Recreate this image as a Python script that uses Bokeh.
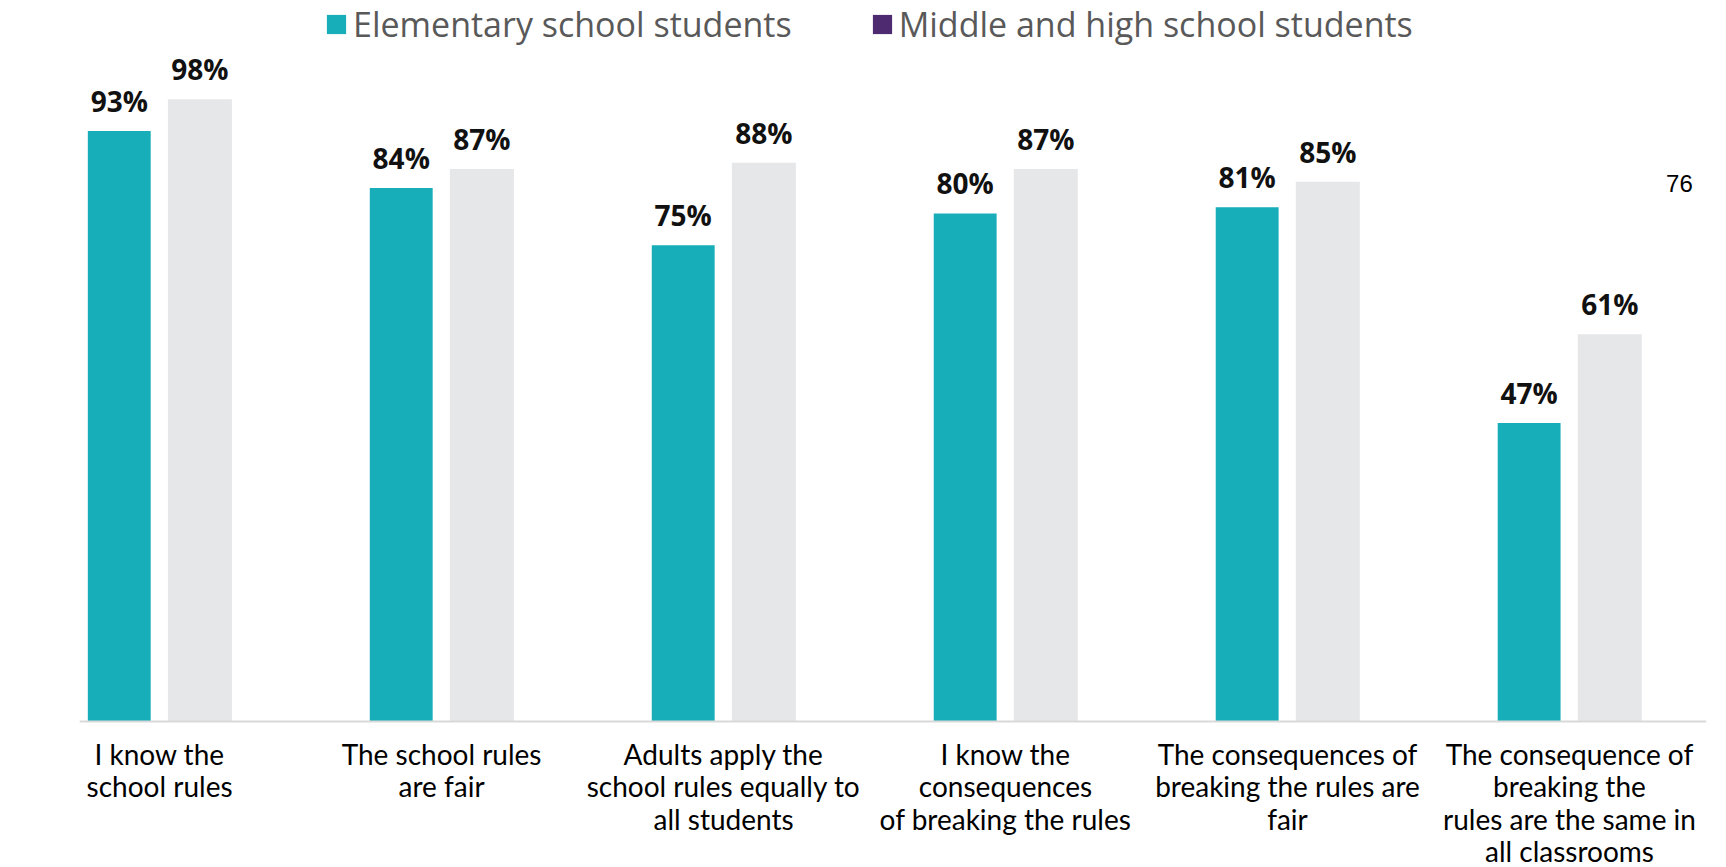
from bokeh.plotting import figure
from bokeh.models import ColumnDataSource, Range1d, Legend, LegendItem, Span
from bokeh.core.properties import value
from bokeh.transform import dodge
from bokeh.embed import file_html
from bokeh.resources import INLINE

categories = [
    "I know the\nschool rules",
    "The school rules\nare fair",
    "Adults apply the\nschool rules equally to\nall students",
    "I know the\nconsequences\nof breaking the rules",
    "The consequences of\nbreaking the rules are\nfair",
    "The consequence of\nbreaking the\nrules are the same in\nall classrooms",
]
elementary = [93, 84, 75, 80, 81, 47]
middle_high = [98, 87, 88, 87, 85, 61]
series_names = ["Elementary school students", "Middle and high school students"]
stray_label = "76"
stray_pos = (5.39, 84.7)

TEAL = "#17aeb9"
GREY_BAR = "#e6e7e9"
PURPLE = "#4e2a70"

idx = list(range(len(categories)))
src = ColumnDataSource(dict(
    x=idx,
    zero=[0] * len(idx),
    cat=categories,
    elem=elementary,
    mid=middle_high,
    elem_lbl=[f"{v}%" for v in elementary],
    mid_lbl=[f"{v}%" for v in middle_high],
))

p = figure(width=1726, height=867, output_backend="svg", toolbar_location=None,
           x_range=Range1d(-0.284, 5.486), y_range=Range1d(-22.99, 113.54),
           min_border_left=79, min_border_right=20, min_border_top=0, min_border_bottom=0)
p.outline_line_color = None
p.xgrid.visible = False
p.ygrid.visible = False
p.xaxis.visible = False
p.yaxis.visible = False
p.background_fill_color = "white"
p.border_fill_color = "white"

off = 0.143
r1 = p.vbar(x=dodge("x", -off), top="elem", width=0.223, source=src,
            fill_color=TEAL, line_color=None)
r2 = p.vbar(x=dodge("x", off), top="mid", width=0.227, source=src,
            fill_color=GREY_BAR, line_color=None)

# renderer outside the visible range, only used for the legend colour of the 2nd series
dummy_src = ColumnDataSource(dict(x=[-10], top=[0]))
r_dummy = p.vbar(x="x", top="top", width=0.2, source=dummy_src, fill_color=PURPLE, line_color=None)

# baseline
p.add_layout(Span(location=0, dimension="width", line_color="#d9d9d9", line_width=2))

p.text(x=dodge("x", -off), y="elem", text="elem_lbl", source=src,
       text_align="center", text_baseline="alphabetic", y_offset=-30,
       text_font=value("Open Sans"), text_font_style="bold", text_font_size="28px",
       text_color="#111111")
p.text(x=dodge("x", off), y="mid", text="mid_lbl", source=src,
       text_align="center", text_baseline="alphabetic", y_offset=-30,
       text_font=value("Open Sans"), text_font_style="bold", text_font_size="28px",
       text_color="#111111")

# category labels
p.text(x="x", y="zero", text="cat", source=src,
       text_align="center", text_baseline="top", y_offset=15,
       text_font=value("Lato"), text_font_size="28px", text_line_height=0.96,
       text_color="#000000")

p.text(x=[stray_pos[0]], y=[stray_pos[1]], text=[stray_label],
       text_align="center", text_baseline="middle",
       text_font=value("Liberation Sans"), text_font_size="24px", text_color="#000000")

legend = Legend(items=[LegendItem(label=series_names[0], renderers=[r1]),
                       LegendItem(label=series_names[1], renderers=[r_dummy])],
                orientation="horizontal", location=(245, 820),
                glyph_width=24, glyph_height=24, label_standoff=5, spacing=78,
                padding=0, margin=0, border_line_color=None,
                background_fill_alpha=0,
                label_text_font="Open Sans", label_text_font_size="34px",
                label_text_color="#595959", label_height=36)
p.add_layout(legend)

open("out.html", "w").write(file_html(p, INLINE))
